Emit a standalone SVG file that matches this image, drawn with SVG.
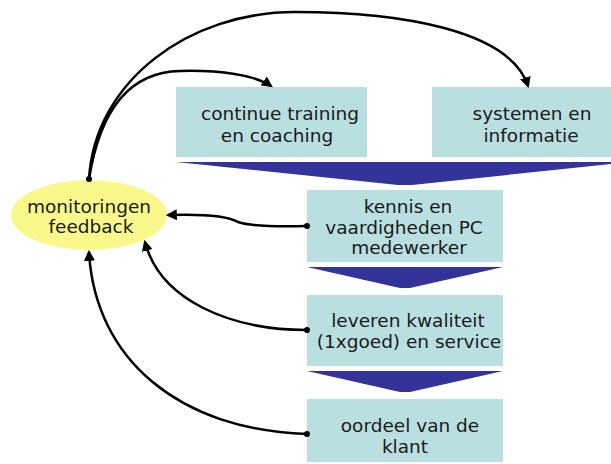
<svg xmlns="http://www.w3.org/2000/svg" width="611" height="464" viewBox="0 0 611 464">
<defs>
<style>
.box{fill:#b9dfe1}
.chev{fill:#333399}
.t{font-family:"DejaVu Sans",Verdana,sans-serif;font-size:18.5px;fill:#1a1a1a;text-anchor:middle}
.c{fill:none;stroke:#000;stroke-width:2.5}
</style>
<marker id="ah" viewBox="0 0 10 10" refX="8" refY="5" markerWidth="4.4" markerHeight="4.4" orient="auto" markerUnits="strokeWidth">
<path d="M0,0 L10,5 L0,10 z" fill="#000"/>
</marker>
<marker id="dot" viewBox="0 0 10 10" refX="5" refY="5" markerWidth="3" markerHeight="3" markerUnits="strokeWidth">
<circle cx="5" cy="5" r="4" fill="#000"/>
</marker>
</defs>
<rect width="611" height="464" fill="#fff"/>
<g id="arrows-flow">
<polygon class="chev" points="176,162 611,162 611,164 412,185 398,185"/>
<polygon class="chev" points="307,267 503,267 410,288 400,288"/>
<polygon class="chev" points="307,371 503,371 410,392 400,392"/>
</g>
<g id="node-training">
<rect class="box" x="176" y="87" width="191" height="70"/>
<text class="t" x="280" y="120">continue training</text>
<text class="t" x="277" y="142">en coaching</text>
</g>
<g id="node-systemen">
<rect class="box" x="432" y="87" width="179" height="70"/>
<text class="t" x="532" y="120">systemen en</text>
<text class="t" x="531" y="142">informatie</text>
</g>
<g id="node-kennis">
<rect class="box" x="307" y="190" width="196" height="72"/>
<text class="t" x="408" y="213">kennis en</text>
<text class="t" x="404" y="234">vaardigheden PC</text>
<text class="t" x="409" y="254">medewerker</text>
</g>
<g id="node-leveren">
<rect class="box" x="307" y="295" width="196" height="71"/>
<text class="t" x="408" y="327">leveren kwaliteit</text>
<text class="t" x="409" y="348">(1xgoed) en service</text>
</g>
<g id="node-oordeel">
<rect class="box" x="307" y="399" width="196" height="63"/>
<text class="t" x="410" y="432">oordeel van de</text>
<text class="t" x="405" y="453">klant</text>
</g>
<g id="node-monitoring">
<ellipse cx="89" cy="215" rx="78" ry="35" fill="#f9f98b"/>
<text class="t" x="89" y="213">monitoringen</text>
<text class="t" x="91" y="233">feedback</text>
</g>
<g id="connectors">
<path class="c" d="M89,179 C95,80 190,12 295,12 C400,12 510,30 528,86" marker-start="url(#dot)" marker-end="url(#ah)"/>
<path class="c" d="M89,179 C100,110 130,72 180,71 C220,70 255,75 271,86" marker-end="url(#ah)"/>
<path class="c" d="M307,226 C270,227 250,226 238,222 C228,216 200,214 168,215" marker-start="url(#dot)" marker-end="url(#ah)"/>
<path class="c" d="M307,330 C230,330 160,300 145,242" marker-start="url(#dot)" marker-end="url(#ah)"/>
<path class="c" d="M307,434 C180,430 95,360 89,252" marker-start="url(#dot)" marker-end="url(#ah)"/>
</g>
</svg>
